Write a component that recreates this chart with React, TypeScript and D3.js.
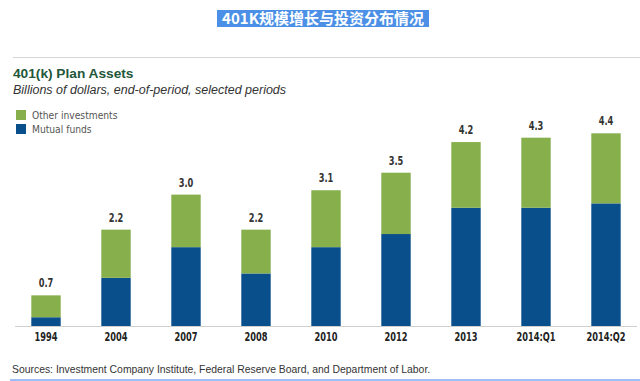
import React from "react";
import * as d3 from "d3";

const categories = ["1994", "2004", "2007", "2008", "2010", "2012", "2013", "2014:Q1", "2014:Q2"];
const mutualFunds = [0.2, 1.1, 1.8, 1.2, 1.8, 2.1, 2.7, 2.7, 2.8];
const totals = [0.7, 2.2, 3.0, 2.2, 3.1, 3.5, 4.2, 4.3, 4.4];
const otherInvestments = totals.map((t, i) => +(t - mutualFunds[i]).toFixed(1));
const totalLabels = ["0.7", "2.2", "3.0", "2.2", "3.1", "3.5", "4.2", "4.3", "4.4"];
const seriesNames = ["Other investments", "Mutual funds"];

const W = 640;
const H = 381;
const GREEN = "#87b04c";
const BLUE = "#094f8b";
const condensed = "'DejaVu Sans Condensed', 'DejaVu Sans', sans-serif";
const arial = "'Liberation Sans', Arial, sans-serif";
const NARROW = 0.8;

export default function App() {
  const x = d3.scaleBand<string>().domain(categories).range([11, 641]).paddingInner(0.58).paddingOuter(0.29);
  const y = d3.scaleLinear().domain([0, 4.4]).range([326, 133.3]);

  const rows = categories.map((c, i) => ({ cat: c, mutual: mutualFunds[i], other: otherInvestments[i] }));
  const stack = d3.stack<any>().keys(["mutual", "other"])(rows);
  const colors: Record<string, string> = { mutual: BLUE, other: GREEN };
  const cx = (c: string) => (x(c) || 0) + x.bandwidth() / 2;

  return (
    <svg width={W} height={H} style={{ position: "absolute", left: 0, top: 0, background: "#fff" }}>
      {/* header highlight */}
      <rect x={217} y={10} width={212} height={17} fill="#4b8fe6" />
      <text x={323} y={23.5} textAnchor="middle" fill="#fff" fontWeight="bold" fontSize={15}
        fontFamily="'Noto Sans CJK SC', sans-serif">401K规模增长与投资分布情况</text>

      {/* top divider */}
      <line x1={13} x2={640} y1={57.5} y2={57.5} stroke="#d6d6d6" strokeWidth={1} />

      <text x={13} y={78} fill="#23573a" fontWeight="bold" fontSize={13.7} fontFamily={arial}>401(k) Plan Assets</text>
      <text x={13} y={94} fill="#333" fontStyle="italic" fontSize={12.5} fontFamily={arial}>Billions of dollars, end-of-period, selected periods</text>

      {/* legend */}
      {seriesNames.map((s, i) => (
        <g key={s} transform={`translate(16, ${110 + i * 14})`}>
          <rect width={10} height={10} fill={i === 0 ? GREEN : BLUE} />
          <text x={16} y={8.8} fontSize={10.2} fill="#555" fontFamily={condensed}>{s}</text>
        </g>
      ))}

      {/* bars */}
      {stack.map((layer) => (
        <g key={layer.key} fill={colors[layer.key]}>
          {layer.map((d, i) => (
            <rect key={i} x={x(categories[i])} width={x.bandwidth()} y={y(d[1])} height={y(d[0]) - y(d[1])} />
          ))}
        </g>
      ))}

      {/* baseline */}
      <line x1={15} x2={637} y1={326.5} y2={326.5} stroke="#cfcfcf" strokeWidth={1} />

      {/* value labels */}
      {categories.map((c, i) => (
        <g key={c} transform={`translate(${cx(c)}, ${y(totals[i]) - 8}) scale(${NARROW}, 1)`}>
          <text textAnchor="middle" fontSize={11.5} fontWeight="bold" fill="#333" fontFamily={condensed}>{totalLabels[i]}</text>
        </g>
      ))}

      {/* category labels */}
      {categories.map((c) => (
        <g key={c} transform={`translate(${cx(c)}, 341) scale(${NARROW}, 1)`}>
          <text textAnchor="middle" fontSize={11.5} fontWeight="bold" fill="#222" fontFamily={condensed}>{c}</text>
        </g>
      ))}

      <text x={12} y={373} fontSize={10.4} fill="#333" fontFamily={arial}>Sources: Investment Company Institute, Federal Reserve Board, and Department of Labor.</text>
      <line x1={10} x2={640} y1={380} y2={380} stroke="#7eaaf2" strokeWidth={1.5} />
    </svg>
  );
}
